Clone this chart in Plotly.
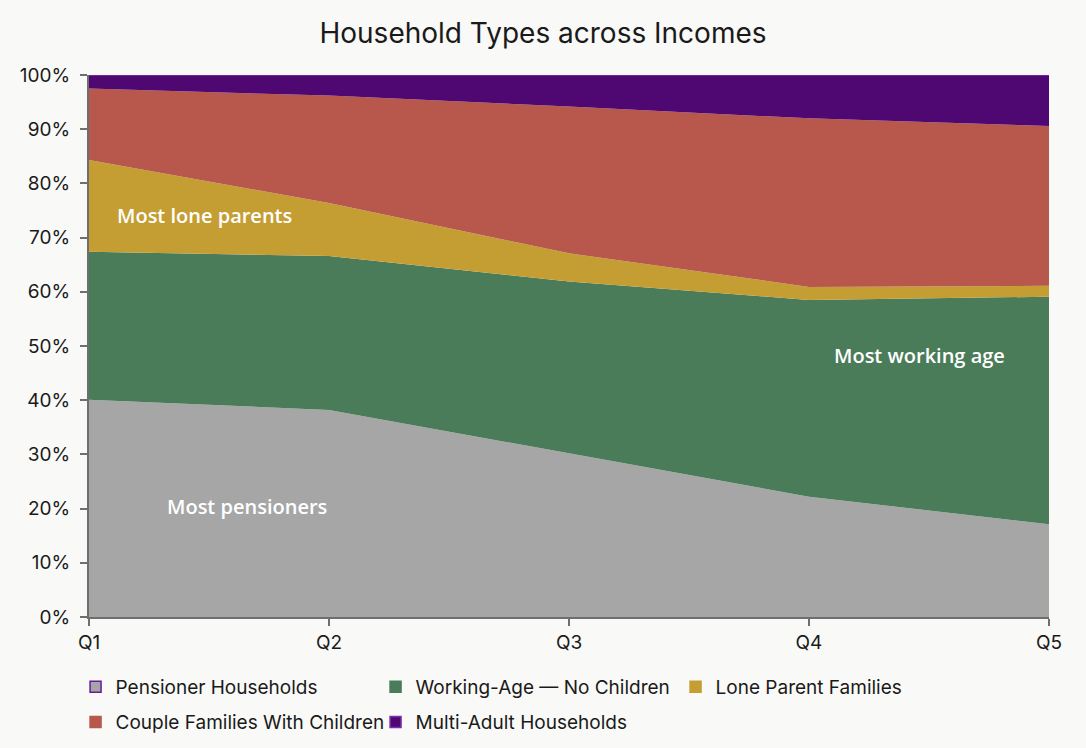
import plotly.graph_objects as go

quintiles = ["Q1", "Q2", "Q3", "Q4", "Q5"]
pensioner = [40.1, 38.2, 30.2, 22.2, 17.1]
working_age = [27.3, 28.4, 31.7, 36.3, 42.0]
lone_parent = [16.9, 9.8, 5.2, 2.4, 2.0]
couple_children = [13.2, 19.8, 27.1, 31.1, 29.5]
multi_adult = [2.5, 3.8, 5.8, 8.0, 9.4]

series = [
    ("Pensioner Households", pensioner, "#A6A6A6", "#6A1B9A", "legend"),
    ("Working-Age — No Children", working_age, "#4A7C59", "#4A7C59", "legend"),
    ("Lone Parent Families", lone_parent, "#C59E33", "#C59E33", "legend"),
    ("Couple Families With Children", couple_children, "#B8574C", "#B8574C", "legend2"),
    ("Multi-Adult Households", multi_adult, "#4F0872", "#7B2FB0", "legend2"),
]

fig = go.Figure()
for name, vals, fill, edge, lg in series:
    lw = 1.5 if name == "Multi-Adult Households" else 0
    fig.add_trace(go.Scatter(
        x=quintiles, y=vals, name=name, mode="lines",
        stackgroup="one", fillcolor=fill,
        line=dict(color=edge if lw else fill, width=lw),
        showlegend=False, hoverinfo="x+y+name",
    ))
for name, vals, fill, edge, lg in series:
    fig.add_trace(go.Scatter(
        x=[None], y=[None], name=name, mode="markers",
        marker=dict(symbol="square", size=11, color=fill,
                    line=dict(color=edge, width=1.5)),
        showlegend=True, legend=lg,
    ))

ann_font = dict(family="Open Sans", size=20, color="white", weight=600)
fig.add_annotation(x=0.48, y=74, text="Most lone parents", showarrow=False, font=ann_font)
fig.add_annotation(x=3.46, y=48.2, text="Most working age", showarrow=False, font=ann_font)
fig.add_annotation(x=0.66, y=20.3, text="Most pensioners", showarrow=False, font=ann_font)

legend_common = dict(orientation="h", x=-0.014, xanchor="left", yanchor="top",
                     entrywidth=255, entrywidthmode="pixels", itemwidth=30,
                     traceorder="normal",
                     font=dict(family="Inter", size=19, color="#1a1a1a"),
                     bgcolor="rgba(0,0,0,0)")

fig.update_layout(
    width=1086, height=748,
    paper_bgcolor="#F9F9F7", plot_bgcolor="#F9F9F7",
    margin=dict(l=89, r=37, t=75, b=131, autoexpand=False),
    title=dict(text="Household Types across Incomes", x=0.5, xanchor="center",
               y=0.955, yanchor="middle",
               font=dict(family="Inter", size=28, color="#1a1a1a")),
    font=dict(family="Inter", size=18, color="#1a1a1a"),
    showlegend=True,
    legend=dict(y=-0.094, **legend_common),
    legend2=dict(y=-0.159, **legend_common),
    hovermode="x unified",
)
fig.update_xaxes(type="category", range=[0, 4], showgrid=False, zeroline=False,
                 showline=True, linecolor="#6E6E6E", linewidth=2,
                 ticks="outside", ticklen=7, tickcolor="#6E6E6E", tickwidth=2,
                 ticklabelstandoff=0, tickfont=dict(size=19))
fig.update_yaxes(range=[0, 100], dtick=10, ticksuffix="%", showgrid=False, zeroline=False,
                 showline=True, linecolor="#6E6E6E", linewidth=2,
                 ticks="outside", ticklen=7, tickcolor="#6E6E6E", tickwidth=2,
                 ticklabelstandoff=6, tickfont=dict(size=19))

fig.write_html("out.html")
